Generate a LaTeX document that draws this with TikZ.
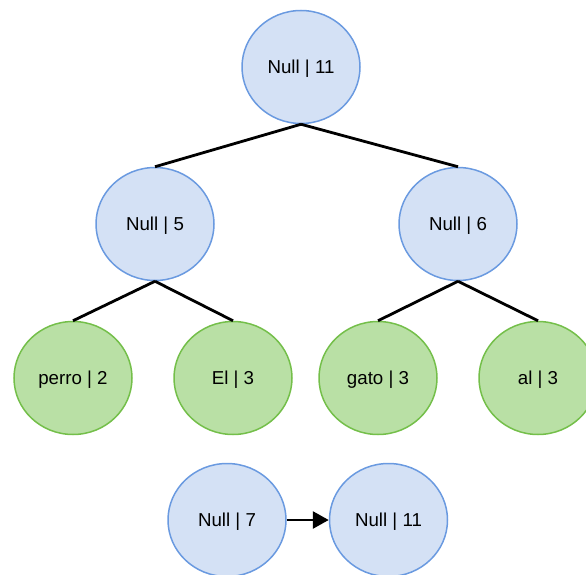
\documentclass[tikz,border=0pt]{standalone}
\usepackage{fontspec}
\setmainfont{Liberation Sans}
\usetikzlibrary{shapes.geometric}
\usetikzlibrary{arrows.meta}
\usetikzlibrary{positioning}
\usetikzlibrary{trees}

\definecolor{innerfill}{HTML}{D4E1F5}
\definecolor{innerline}{HTML}{6A9AE0}
\definecolor{leaffill}{HTML}{B9E0A5}
\definecolor{leafline}{HTML}{74BF4A}

\begin{document}
\begin{tikzpicture}[
  x=1pt, y=-1pt,
  every node/.style={ellipse, minimum width=118pt, minimum height=113pt, inner sep=0pt,
    text height=13.4pt, text depth=0pt,
    font=\fontsize{18.7}{22}\selectfont, line width=1.5pt},
  inner/.style={draw=innerline, fill=innerfill},
  leaf/.style={draw=leafline, fill=leaffill},
  edge from parent/.style={draw, black, line width=2.8pt},
  edge from parent path={(\tikzparentnode.south) -- (\tikzchildnode.north)},
  level 1/.style={level distance=157pt, sibling distance=303pt},
  level 2/.style={level distance=154pt, sibling distance=160pt}
]
\useasboundingbox (0,0) rectangle (586,575);

% arbol de Huffman
\node [inner] (raiz) at (301,67) {Null | 11}
  child [xshift=5.5pt] { node [inner] (n5) {Null | 5}
    child [xshift=-2pt] { node [leaf] (perro) {perro | 2} }
    child [xshift=-2pt] { node [leaf] (el) {El | 3} }
  }
  child [xshift=5.5pt] { node [inner] (n6) {Null | 6}
    child { node [leaf] (gato) {gato | 3} }
    child { node [leaf] (al) {al | 3} }
  };

% cola de nodos
\node [inner] (n7) at (227,520) {Null | 7};
\node [inner, right=42pt of n7] (n11) {Null | 11};
\draw [line width=2.8pt, -{Triangle[length=16pt, width=17pt]}] (n7) -- (n11);

\end{tikzpicture}
\end{document}
